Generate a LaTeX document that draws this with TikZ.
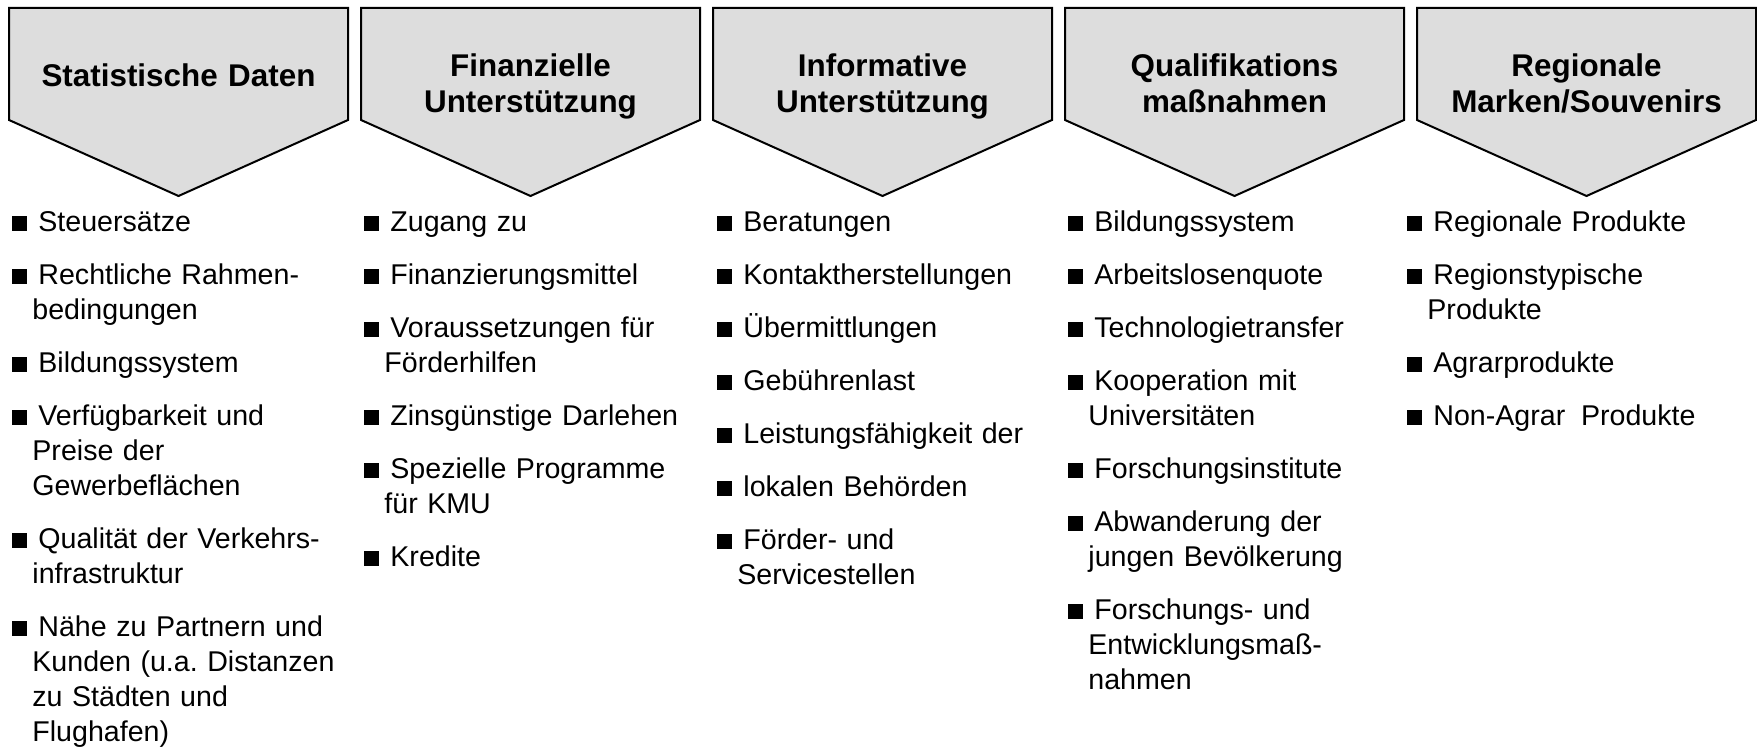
\documentclass[tikz,border=0pt]{standalone}
\usepackage{fontspec}
\setmainfont{Liberation Sans}
\frenchspacing
\definecolor{chevgray}{HTML}{DDDDDD}
% bullet, continuation line and gap between items
\newcommand{\blt}{\rule[0.5pt]{7.5pt}{7.5pt}\hspace{5.5pt}}
\newcommand{\cont}{\\\hspace*{10pt}}
\newcommand{\gap}{\\[9pt]}
\tikzset{
  chev/.style={draw=black, line width=1pt, fill=chevgray, line join=miter},
  head/.style={text width=170pt, align=center, anchor=base, inner sep=0pt,
    font=\fontsize{15.7}{18}\selectfont\bfseries},
  lst/.style={text width=170pt, align=left, anchor=base west, inner sep=0pt,
    font=\fontsize{14.3}{17.5}\selectfont}
}
\begin{document}
\begin{tikzpicture}[x=0.5pt,y=-0.5pt]
  \useasboundingbox (0,0) rectangle (1757,747);
  % the five arrow heads
  \foreach \i in {0,...,4}
    \draw[chev] ({9+352*\i},8) -- ++(339,0) -- ++(0,112) -- ++(-169.5,76)
      -- ++(-169.5,-76) -- cycle;
  \node[head] (h1) at (178.5,87) {Statistische Daten};
  \node[head] (h2) at (530.5,77) {Finanzielle\\Unterstützung};
  \node[head] (h3) at (882.5,77) {Informative\\Unterstützung};
  \node[head] (h4) at (1234.5,77) {Qualifikations\\maßnahmen};
  \node[head] (h5) at (1586.5,77) {Regionale\\Marken/Souvenirs};
  % lists below
  \node[lst] (l1) at (12,232) {\blt Steuersätze\gap
    \blt Rechtliche Rahmen-\cont bedingungen\gap
    \blt Bildungssystem\gap
    \blt Verfügbarkeit und\cont Preise der\cont Gewerbeflächen\gap
    \blt Qualität der Verkehrs-\cont infrastruktur\gap
    \blt Nähe zu Partnern und\cont Kunden (u.a. Distanzen\cont zu Städten und\cont Flughafen)};
  \node[lst] (l2) at (364,232) {\blt Zugang zu\gap
    \blt Finanzierungsmittel\gap
    \blt Voraussetzungen für\cont Förderhilfen\gap
    \blt Zinsgünstige Darlehen\gap
    \blt Spezielle Programme\cont für KMU\gap
    \blt Kredite};
  \node[lst] (l3) at (717,232) {\blt Beratungen\gap
    \blt Kontaktherstellungen\gap
    \blt Übermittlungen\gap
    \blt Gebührenlast\gap
    \blt Leistungsfähigkeit der\gap
    \blt lokalen Behörden\gap
    \blt Förder- und\cont Servicestellen};
  \node[lst] (l4) at (1068,232) {\blt Bildungssystem\gap
    \blt Arbeitslosenquote\gap
    \blt Technologietransfer\gap
    \blt Kooperation mit\cont Universitäten\gap
    \blt Forschungsinstitute\gap
    \blt Abwanderung der\cont jungen Bevölkerung\gap
    \blt Forschungs- und\cont Entwicklungsmaß-\cont nahmen};
  \node[lst] (l5) at (1407,232) {\blt Regionale Produkte\gap
    \blt Regionstypische\cont Produkte\gap
    \blt Agrarprodukte\gap
    \blt Non-Agrar\hspace{0.55em}Produkte};
\end{tikzpicture}
\end{document}
